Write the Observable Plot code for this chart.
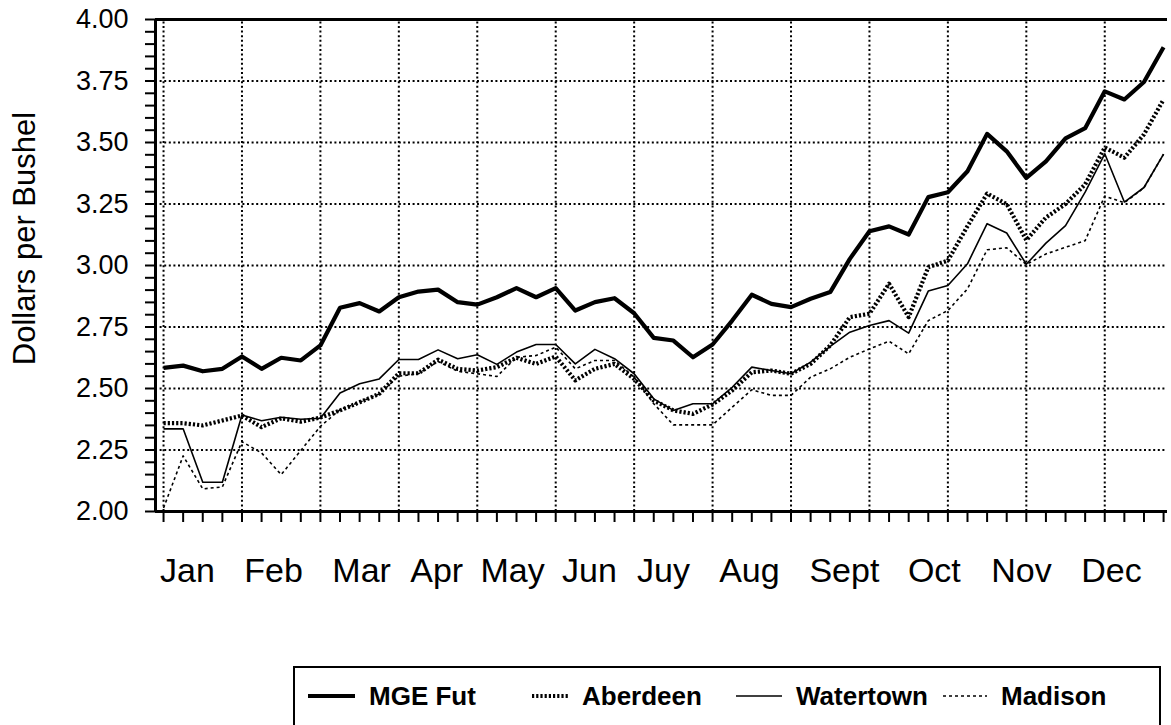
<!DOCTYPE html>
<html>
<head>
<meta charset="utf-8">
<script src="https://cdn.jsdelivr.net/npm/d3@7"></script>
<script src="https://cdn.jsdelivr.net/npm/@observablehq/plot@0.6"></script>
<style>
  html, body { margin: 0; padding: 0; background: #fff; }
  body { width: 1171px; height: 725px; overflow: hidden; position: relative; font-family: "Liberation Sans", Arial, sans-serif; color: #000; }
  #chart { position: absolute; left: 0; top: 0; }
  #legend { position: absolute; left: 293px; top: 666px; width: 868px; height: 90px; border: 2px solid #000; box-sizing: border-box; }
  .item { position: absolute; top: 0; height: 56px; display: flex; align-items: center; font-weight: bold; font-size: 26px; white-space: nowrap; }
  .item svg { margin-right: 14px; }
</style>
</head>
<body>
<div id="chart"></div>
<div id="legend"></div>
<script>
// ---- data (weekly prices, $/bushel), 52 weeks ----
const seriesNames = ["MGE Fut", "Aberdeen", "Watertown", "Madison"];
const mgeFut = [2.584, 2.593, 2.570, 2.580, 2.630, 2.580, 2.625, 2.614, 2.675, 2.828,
  2.847, 2.813, 2.871, 2.894, 2.902, 2.851, 2.841, 2.871, 2.908, 2.871,
  2.908, 2.817, 2.851, 2.867, 2.806, 2.706, 2.695, 2.627, 2.679, 2.776,
  2.881, 2.844, 2.831, 2.865, 2.892, 3.027, 3.139, 3.159, 3.126, 3.278,
  3.298, 3.383, 3.535, 3.464, 3.356, 3.423, 3.517, 3.558, 3.708, 3.675,
  3.746, 3.887];
const aberdeen = [2.359, 2.359, 2.350, 2.370, 2.390, 2.343, 2.379, 2.365, 2.382, 2.411,
  2.444, 2.478, 2.562, 2.562, 2.617, 2.580, 2.573, 2.587, 2.625, 2.600,
  2.630, 2.533, 2.580, 2.600, 2.539, 2.451, 2.411, 2.397, 2.435, 2.492,
  2.566, 2.573, 2.560, 2.600, 2.675, 2.790, 2.804, 2.926, 2.790, 2.993,
  3.020, 3.160, 3.292, 3.250, 3.103, 3.195, 3.250, 3.330, 3.480, 3.438,
  3.533, 3.675];
const watertown = [2.336, 2.336, 2.119, 2.119, 2.392, 2.369, 2.383, 2.375, 2.379, 2.482,
  2.519, 2.539, 2.618, 2.618, 2.657, 2.621, 2.637, 2.598, 2.648, 2.679,
  2.679, 2.600, 2.659, 2.621, 2.560, 2.458, 2.411, 2.438, 2.438, 2.505,
  2.587, 2.573, 2.560, 2.607, 2.671, 2.729, 2.756, 2.776, 2.725, 2.896,
  2.919, 3.007, 3.170, 3.132, 3.005, 3.091, 3.162, 3.298, 3.454, 3.258,
  3.317, 3.453];
const madison = [2.014, 2.226, 2.092, 2.100, 2.284, 2.238, 2.150, 2.248, 2.346, 2.414,
  2.444, 2.478, 2.550, 2.560, 2.610, 2.570, 2.560, 2.549, 2.627, 2.634,
  2.668, 2.580, 2.614, 2.614, 2.546, 2.438, 2.352, 2.352, 2.352, 2.424,
  2.495, 2.472, 2.472, 2.546, 2.580, 2.627, 2.661, 2.692, 2.641, 2.776,
  2.817, 2.905, 3.064, 3.072, 3.004, 3.047, 3.074, 3.101, 3.282, 3.255,
  3.316, 3.453];

// ---- axis ticks / labels ----
const monthLabels = ["Jan", "Feb", "Mar", "Apr", "May", "Jun", "Juy", "Aug", "Sept", "Oct", "Nov", "Dec"];
const monthWeek = [1.22, 5.61, 10.1, 13.93, 17.8, 21.72, 25.5, 29.88, 34.72, 39.31, 43.75, 48.34];
const gridWeeks = [0, 4, 8, 12, 16, 20, 24, 28, 32, 36, 40, 44, 48];
const yTicks = [2.00, 2.25, 2.50, 2.75, 3.00, 3.25, 3.50, 3.75, 4.00];
const yMinorTicks = d3.range(0, 41).map(i => 2 + i * 0.05);
const yTitle = "Dollars per Bushel";

// ---- build table ----
const weeks = d3.range(mgeFut.length);
const allSeries = [mgeFut, aberdeen, watertown, madison];
const rows = [];
allSeries.forEach((vals, s) => vals.forEach((v, i) => rows.push({series: seriesNames[s], week: i, price: v})));
const bySeries = name => rows.filter(d => d.series === name);

const styles = {
  "MGE Fut":   {strokeWidth: 4.2, strokeDasharray: null},
  "Aberdeen":  {strokeWidth: 4.2, strokeDasharray: "2.2,2"},
  "Watertown": {strokeWidth: 1.6, strokeDasharray: null},
  "Madison":   {strokeWidth: 1.6, strokeDasharray: "3,3"}
};

const xDomain = [-0.41, 51.2];
const grid = {stroke: "#000", strokeWidth: 2, strokeDasharray: "2,2.6", strokeOpacity: 1};

const chart = Plot.plot({
  width: 1171,
  height: 600,
  marginLeft: 155,
  marginRight: 4,
  marginTop: 19,
  marginBottom: 89,
  style: {fontFamily: "'Liberation Sans', Arial, sans-serif", color: "#000", background: "#fff", overflow: "visible"},
  x: {domain: xDomain, axis: null, label: null},
  y: {domain: [2, 4], axis: null, label: null},
  marks: [
    Plot.ruleX(gridWeeks, {...grid, y1: 2, y2: 4}),
    Plot.ruleY(yTicks.filter(v => v > 2 && v < 4), {...grid, x1: xDomain[0], x2: xDomain[1]}),
    Plot.axisY({ticks: yMinorTicks, tickSize: 10, tickFormat: () => "", strokeWidth: 2, label: null}),
    Plot.axisY({ticks: yTicks, tickSize: 0, tickPadding: 27, tickFormat: d3.format(".2f"), fontSize: 27, label: null}),
    Plot.axisX({ticks: weeks, tickSize: 11, tickFormat: () => "", strokeWidth: 2, label: null}),
    Plot.text(monthLabels, {x: monthWeek, frameAnchor: "bottom", dy: 60, fontSize: 34, lineAnchor: "middle", fill: "#000"}),
    Plot.text([yTitle], {frameAnchor: "left", textAnchor: "middle", lineAnchor: "middle", rotate: -90, dx: -130, dy: -27, fontSize: 31, fill: "#000"}),
    Plot.ruleY([2], {stroke: "#000", strokeWidth: 3, x1: xDomain[0], x2: xDomain[1]}),
    Plot.ruleY([4], {stroke: "#000", strokeWidth: 3, x1: xDomain[0], x2: xDomain[1]}),
    Plot.ruleX([xDomain[0]], {stroke: "#000", strokeWidth: 3, y1: 2, y2: 4}),
    ...seriesNames.map(name => Plot.line(bySeries(name), {
      x: "week", y: "price", stroke: "#000",
      strokeWidth: styles[name].strokeWidth,
      strokeDasharray: styles[name].strokeDasharray,
      strokeLinejoin: "round", strokeLinecap: "butt"
    }))
  ]
});
document.getElementById("chart").appendChild(chart);

// ---- legend ----
const legendPos = [
  {name: "MGE Fut",   left: 13,  sw: 47},
  {name: "Aberdeen",  left: 237, sw: 36},
  {name: "Watertown", left: 441, sw: 46},
  {name: "Madison",   left: 648, sw: 44}
];
const legend = document.getElementById("legend");
legendPos.forEach(p => {
  const st = styles[p.name];
  const div = document.createElement("div");
  div.className = "item";
  div.style.left = p.left + "px";
  div.innerHTML = `<svg width="${p.sw}" height="10"><line x1="0" y1="5" x2="${p.sw}" y2="5" stroke="#000" stroke-width="${st.strokeWidth}" ${st.strokeDasharray ? `stroke-dasharray="${st.strokeDasharray}"` : ""}/></svg><span>${p.name}</span>`;
  legend.appendChild(div);
});
</script>
</body>
</html>
